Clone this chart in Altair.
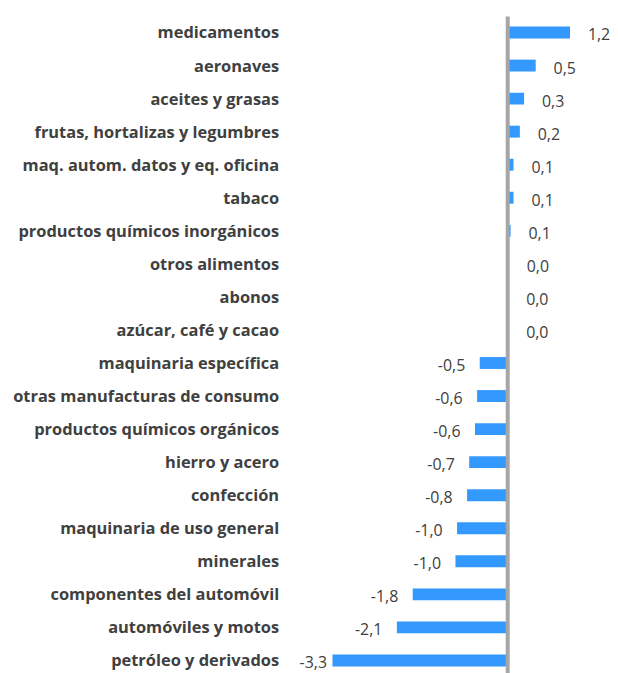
import altair as alt
import pandas as pd

categories = [
    "medicamentos",
    "aeronaves",
    "aceites y grasas",
    "frutas, hortalizas y legumbres",
    "maq. autom. datos y eq. oficina",
    "tabaco",
    "productos químicos inorgánicos",
    "otros alimentos",
    "abonos",
    "azúcar, café y cacao",
    "maquinaria específica",
    "otras manufacturas de consumo",
    "productos químicos orgánicos",
    "hierro y acero",
    "confección",
    "maquinaria de uso general",
    "minerales",
    "componentes del automóvil",
    "automóviles y motos",
    "petróleo y derivados",
]
values = [1.18, 0.53, 0.31, 0.23, 0.11, 0.11, 0.055, 0.02, 0.01, 0.01,
          -0.53, -0.58, -0.62, -0.73, -0.77, -0.96, -0.99, -1.80, -2.10, -3.32]

df = pd.DataFrame({"cat": categories, "v": values})

FONT = "Open Sans"
TXT = "#404040"
H = 643
W = 313

y_enc = alt.Y(
    "cat:N",
    sort=categories,
    scale=alt.Scale(paddingInner=0.64, paddingOuter=0),
    axis=alt.Axis(
        title=None, domain=False, ticks=False, labelPadding=18,
        labelFont=FONT, labelFontSize=16.5, labelFontWeight="bold",
        labelColor=TXT, labelLimit=400, labelOffset=1,
    ),
)
x_scale = alt.Scale(domain=[-4, 1.9], nice=False, zero=False)

base = alt.Chart(df)

bars = base.mark_bar(color="#3399FF").encode(
    x=alt.X("v:Q", scale=x_scale, axis=None),
    x2=alt.datum(0),
    y=y_enc,
)

label_calc = {
    "label": "replace(replace(format(datum.v, '.1f'), '.', ','), '\u2212', '-')",
    "lx": "max(datum.v, -3.15)",
}

pos_text = base.transform_filter("datum.v >= 0").transform_calculate(**label_calc).mark_text(
    align="left", baseline="middle", dx=18, dy=3, font=FONT, fontSize=16, color=TXT
).encode(x=alt.X("lx:Q", scale=x_scale), y=alt.Y("cat:N", sort=categories), text="label:N")

neg_text = base.transform_filter("datum.v < 0").transform_calculate(**label_calc).mark_text(
    align="right", baseline="middle", dx=-14.5, dy=3, font=FONT, fontSize=16, color=TXT
).encode(x=alt.X("lx:Q", scale=x_scale), y=alt.Y("cat:N", sort=categories), text="label:N")

zero_line = alt.Chart(pd.DataFrame({"z": [0]})).mark_rule(color="#A6A6A6", strokeWidth=4).encode(
    x=alt.X("z:Q", scale=x_scale),
    y=alt.value(-10),
    y2=alt.value(H + 8),
)

chart = alt.layer(bars, zero_line, pos_text, neg_text).properties(
    width=W, height=H,
    autosize=alt.AutoSizeParams(type="none"),
    padding={"left": 290, "top": 17, "right": 2, "bottom": 5},
).configure_view(stroke=None)

chart.save("out.html", embed_options={"renderer": "svg", "actions": False})
